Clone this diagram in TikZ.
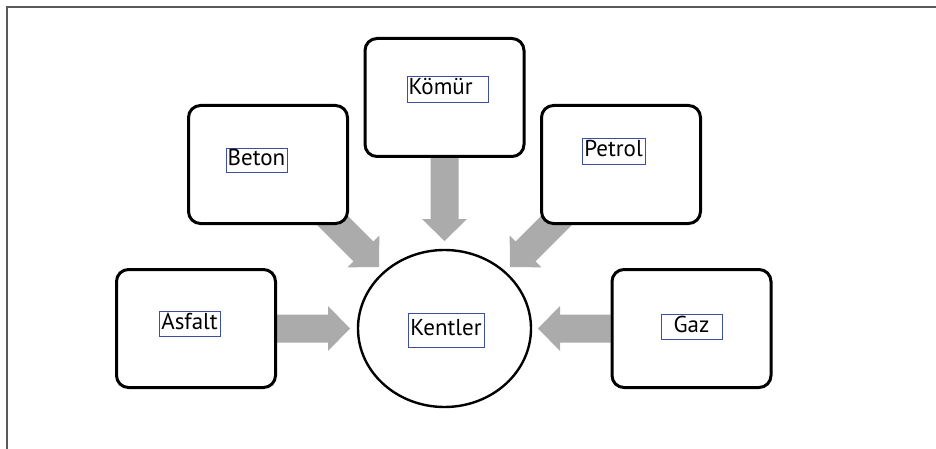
\documentclass[tikz,border=0pt]{standalone}
\usepackage{fontspec}
\setmainfont{PT Sans}
\usetikzlibrary{calc,shapes.geometric}
\pgfdeclarelayer{bg}
\pgfsetlayers{bg,main}
\definecolor{arrgray}{RGB}{170,171,170}
\definecolor{lblblue}{RGB}{60,80,160}
\definecolor{framegray}{RGB}{90,90,90}
\newcommand\blockarr[2]{%
  \coordinate (ba-m) at ($(#2)!22pt!(#1)$);
  \fill[arrgray] ($(#1)!14pt!90:(#2)$) -- ($(ba-m)!14pt!90:(#2)$) -- ($(ba-m)!22.5pt!90:(#2)$) -- (#2) -- ($(ba-m)!22.5pt!-90:(#2)$) -- ($(ba-m)!14pt!-90:(#2)$) -- ($(#1)!14pt!-90:(#2)$) -- cycle;}
\tikzset{
  bigbox/.style={draw=black, fill=white, line width=3pt, rounded corners=12pt,
    minimum width=159pt, minimum height=118pt, inner sep=0pt},
  hub/.style={draw=black, fill=white, ellipse, line width=2.4pt,
    minimum width=173pt, minimum height=157pt, inner sep=0pt},
  lbl/.style={draw=lblblue, line width=0.8pt, inner sep=0pt, outer sep=0pt,
    font=\fontsize{23}{25}\selectfont, text height=16pt, text depth=5pt}
}
\begin{document}
\begin{tikzpicture}[x=1pt,y=-1pt]
\useasboundingbox (0,0) rectangle (936,449);
\draw[framegray, line width=1.5pt] (7,449) -- (7,7) -- (936,7);
% boxes
\node[bigbox] (kom) at (444.5,97.5) {};
\node[bigbox] (bet) at (268,164.5) {};
\node[bigbox] (pet) at (621,164.5) {};
\node[bigbox] (asf) at (196,328.5) {};
\node[bigbox] (gaz) at (691.5,328.5) {};
\node[hub] (ken) at (444.5,328.5) {};
% labels
\node[lbl, minimum width=81pt, minimum height=26pt, text width=78pt, align=left] (komt) at (447.5,89) {Kömür};
\node[lbl, minimum width=61pt, minimum height=24pt] (bett) at (256.5,160) {Beton};
\node[lbl, minimum width=63pt, minimum height=26pt] (pett) at (613.5,151) {Petrol};
\node[lbl, minimum width=61pt, minimum height=25pt] (asft) at (189.5,323.5) {Asfalt};
\node[lbl, minimum width=61pt, minimum height=25pt] (gazt) at (691.5,326.5) {Gaz};
\node[lbl, minimum width=76pt, minimum height=34pt] (kent) at (446,330) {Kentler};
% arrows
\coordinate (komtip) at (444.5,241);
\coordinate (bets) at (325,213);
\coordinate (bettip) at (379,267);
\coordinate (pets) at (564,213);
\coordinate (pettip) at (510,267);
\coordinate (asftip) at (350,328.5);
\coordinate (gaztip) at (538,328.5);
\begin{pgfonlayer}{bg}
\blockarr{kom.south}{komtip}
\blockarr{bets}{bettip}
\blockarr{pets}{pettip}
\blockarr{asf.east}{asftip}
\blockarr{gaz.west}{gaztip}
\end{pgfonlayer}
\end{tikzpicture}
\end{document}
